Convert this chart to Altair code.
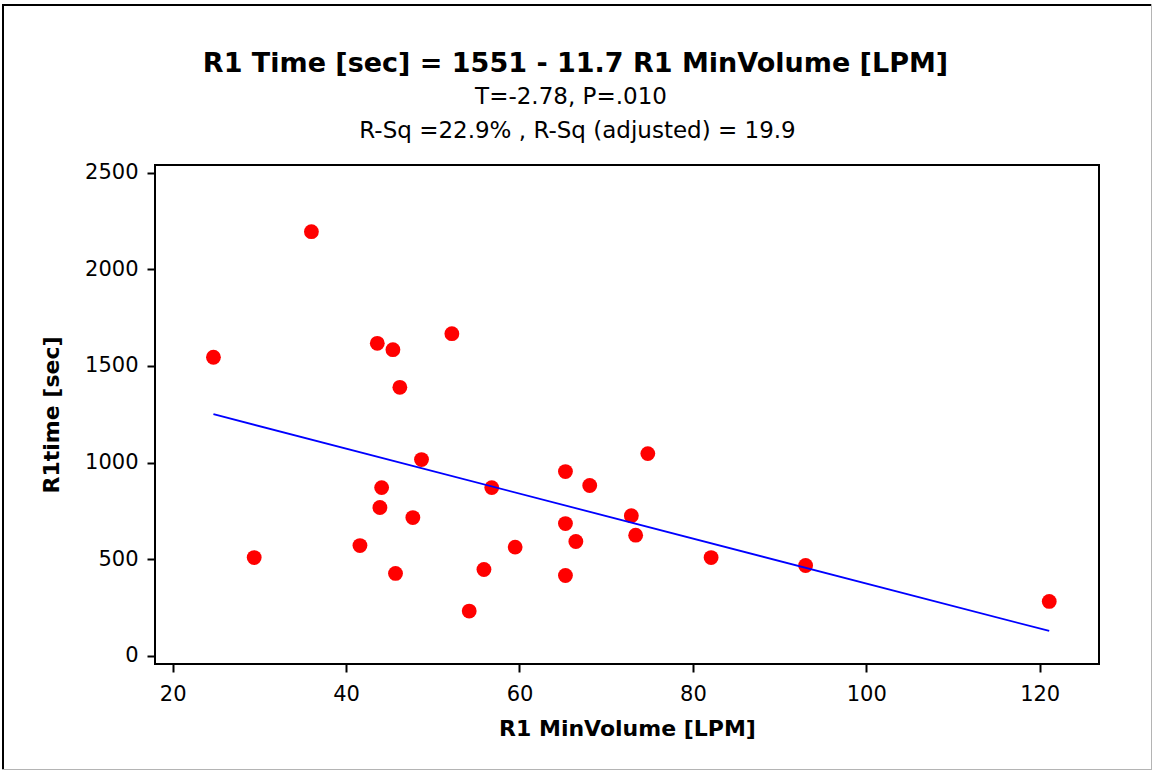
import altair as alt
import pandas as pd

# Data
min_volume = [24.7, 36.0, 43.6, 45.4, 52.2, 46.2, 29.4, 48.7, 56.8, 44.1,
              43.9, 47.7, 41.6, 45.7, 55.9, 54.2, 74.8, 65.3, 68.1, 72.9,
              65.3, 73.4, 66.5, 59.5, 82.1, 65.3, 93.0, 121.1]
r1_time = [1545, 2195, 1617, 1584, 1667, 1389, 508, 1015, 870, 870,
           767, 715, 570, 426, 446, 231, 1046, 953, 881, 725,
           684, 624, 591, 562, 508, 415, 467, 281]

x_ticks = [20, 40, 60, 80, 100, 120]
y_ticks = [0, 500, 1000, 1500, 2000, 2500]

title_text = "R1 Time [sec] = 1551 - 11.7 R1 MinVolume [LPM]"
subtitle_lines = ["T=-2.78, P=.010", "R-Sq =22.9% , R-Sq (adjusted) = 19.9"]

df = pd.DataFrame({"x": min_volume, "y": r1_time})

FONT = "DejaVu Sans"

xs = alt.Scale(domain=[17.96, 126.84], nice=False, zero=False)
ys = alt.Scale(domain=[-43, 2540], nice=False, zero=False)

x_axis = alt.Axis(values=x_ticks, format="d", title="R1 MinVolume [LPM]", grid=False,
                  domain=False, tickSize=8, tickWidth=2, tickColor="black",
                  labelFont=FONT, labelFontSize=21, labelColor="black",
                  labelPadding=11, titleFont=FONT, titleFontSize=22,
                  titleFontWeight="bold", titleColor="black", titlePadding=14)
y_axis = alt.Axis(values=y_ticks, format="d", title="R1time [sec]", grid=False,
                  domain=False, tickSize=8, tickWidth=2, tickColor="black",
                  labelFont=FONT, labelFontSize=21, labelColor="black",
                  labelPadding=9, titleFont=FONT, titleFontSize=22,
                  titleFontWeight="bold", titleColor="black", titlePadding=21)

base = alt.Chart(df)

points = base.mark_circle(color="#ff0000", opacity=1, size=220).encode(
    x=alt.X("x:Q", scale=xs, axis=x_axis),
    y=alt.Y("y:Q", scale=ys, axis=y_axis),
)

fit = base.transform_regression("x", "y").mark_line(
    color="#0000ff", strokeWidth=1.8
).encode(
    x=alt.X("x:Q", scale=xs),
    y=alt.Y("y:Q", scale=ys),
)

# Title block as text marks
title_df = pd.DataFrame({"t": [title_text]})
sub1_df = pd.DataFrame({"t": [subtitle_lines[0]]})
sub2_df = pd.DataFrame({"t": [subtitle_lines[1]]})

title_mark = alt.Chart(title_df).mark_text(
    font=FONT, fontSize=27, fontWeight="bold", color="black",
    align="center", baseline="alphabetic"
).encode(text="t:N", x=alt.value(420.5), y=alt.value(-93.5))
sub1_mark = alt.Chart(sub1_df).mark_text(
    font=FONT, fontSize=23, color="black", align="center", baseline="alphabetic"
).encode(text="t:N", x=alt.value(416), y=alt.value(-61))
sub2_mark = alt.Chart(sub2_df).mark_text(
    font=FONT, fontSize=23, color="black", align="center", baseline="alphabetic"
).encode(text="t:N", x=alt.value(422.5), y=alt.value(-27))

# Outer frame of the figure
top_rule = title_mark.mark_rule(color="black", strokeWidth=2).encode(
    x=alt.value(-153), x2=alt.value(997), y=alt.value(-160))
left_rule = title_mark.mark_rule(color="black", strokeWidth=2).encode(
    x=alt.value(-152), y=alt.value(-161), y2=alt.value(605))
right_rule = title_mark.mark_rule(color="#b4b4b4", strokeWidth=1).encode(
    x=alt.value(996.5), y=alt.value(-161), y2=alt.value(605))
bottom_rule = title_mark.mark_rule(color="#b4b4b4", strokeWidth=1).encode(
    x=alt.value(-153), x2=alt.value(997), y=alt.value(604.5))

chart = alt.layer(
    points, fit, title_mark, sub1_mark, sub2_mark,
    top_rule, left_rule, right_rule, bottom_rule
).properties(
    width=944,
    height=499,
    autosize=alt.AutoSizeParams(type="none"),
    padding={"left": 155, "top": 165, "right": 53, "bottom": 106},
).configure(background="white").configure_view(stroke="black", strokeWidth=2)

chart.save("out.html", embed_options={"renderer": "svg", "actions": False})
